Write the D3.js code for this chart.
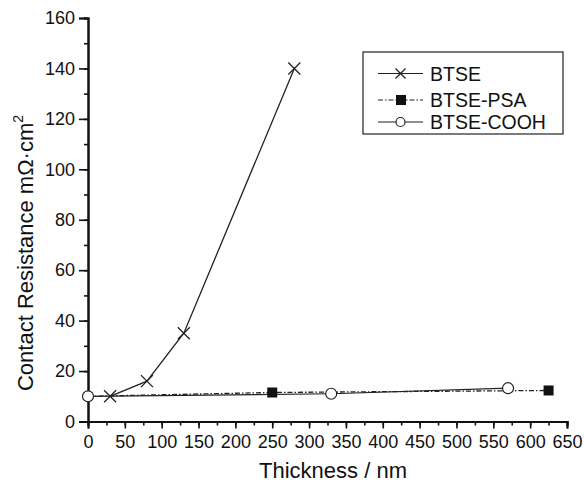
<!DOCTYPE html>
<html><head><meta charset="utf-8">
<script src="https://cdn.jsdelivr.net/npm/d3@7"></script>
<style>body{margin:0;background:#fff}svg{display:block}text{font-family:"Liberation Sans",Arial,sans-serif;fill:#111}</style>
</head><body><svg id="c" width="584" height="487"></svg>
<script>
const btseX = [30, 80, 130, 280];
const btseY = [10, 16, 35, 140];
const psaX = [0, 250, 625];
const psaY = [10, 11.5, 12.3];
const coohX = [0, 330, 570];
const coohY = [10, 11, 13.2];
const coohErr = [1.5, 0, 0];
const seriesNames = ["BTSE", "BTSE-PSA", "BTSE-COOH"];
const xTicks = d3.range(0, 651, 50);
const yTicks = d3.range(0, 161, 20);

const svg = d3.select("#c");
const x = d3.scaleLinear().domain([0, 650]).range([88, 567]);
const y = d3.scaleLinear().domain([0, 160]).range([421.5, 18]);

// axes
const xMinor = d3.axisBottom(x).tickValues(d3.range(0, 651, 25)).tickSize(4).tickFormat("");
const xMajor = d3.axisBottom(x).tickValues(xTicks).tickSize(7).tickPadding(7);
const yMinor = d3.axisLeft(y).tickValues(d3.range(0, 161, 10)).tickSize(4).tickFormat("");
const yMajor = d3.axisLeft(y).tickValues(yTicks).tickSize(9).tickPadding(4);
function style(g){
  g.select(".domain").attr("stroke","#111").attr("stroke-width",2);
  g.selectAll(".tick line").attr("stroke","#111").attr("stroke-width",1.6);
  g.selectAll("text").style("font-size","18px").attr("fill","#111").style("font-family",'"Liberation Sans",Arial,sans-serif');
}
svg.append("g").attr("transform","translate(0,421.5)").call(xMinor).call(style);
svg.append("g").attr("transform","translate(0,421.5)").call(xMajor).call(style);
svg.append("g").attr("transform","translate(88,0)").call(yMinor).call(style);
svg.append("g").attr("transform","translate(88,0)").call(yMajor).call(style);

// titles
svg.append("text").attr("x",333).attr("y",478).attr("text-anchor","middle")
  .style("font-size","22px").text("Thickness / nm");
const yt = svg.append("text").attr("transform","translate(33,253) rotate(-90)").attr("text-anchor","middle")
  .style("font-size","22px");
yt.append("tspan").text("Contact Resistance mΩ·cm");
yt.append("tspan").attr("dy",-10).style("font-size","14px").text("2");

const line = d3.line().x(d=>x(d[0])).y(d=>y(d[1]));
const btse = btseX.map((v,i)=>[v,btseY[i]]);
const psa = psaX.map((v,i)=>[v,psaY[i]]);
const cooh = coohX.map((v,i)=>[v,coohY[i]]);

svg.append("path").datum(psa).attr("d",line).attr("fill","none").attr("stroke","#222").attr("stroke-width",1.3).attr("stroke-dasharray","5,2,1.5,2");
svg.append("path").datum(cooh).attr("d",line).attr("fill","none").attr("stroke","#222").attr("stroke-width",1.2);
svg.append("path").datum(btse).attr("d",line).attr("fill","none").attr("stroke","#222").attr("stroke-width",1.3);

function cross(g, cx, cy, s){
  g.append("path").attr("d",`M${cx-s},${cy-s}L${cx+s},${cy+s}M${cx-s},${cy+s}L${cx+s},${cy-s}`).attr("stroke","#222").attr("stroke-width",1.3).attr("fill","none");
}
const mk = svg.append("g");
btse.forEach(d=>cross(mk, x(d[0]), y(d[1]), 6));
psa.forEach((d,i)=>{ if(i>0) mk.append("rect").attr("x",x(d[0])-5).attr("y",y(d[1])-5).attr("width",10).attr("height",10).attr("fill","#111"); });
cooh.forEach((d,i)=>{
  if(coohErr[i]>0){
    const cx=x(d[0]);
    mk.append("path").attr("d",`M${cx},${y(d[1]-coohErr[i])}L${cx},${y(d[1]+coohErr[i])}M${cx-4},${y(d[1]-coohErr[i])}L${cx+4},${y(d[1]-coohErr[i])}M${cx-4},${y(d[1]+coohErr[i])}L${cx+4},${y(d[1]+coohErr[i])}`).attr("stroke","#222").attr("stroke-width",1.2);
  }
  mk.append("circle").attr("cx",x(d[0])).attr("cy",y(d[1])).attr("r",5.5).attr("fill","#fff").attr("stroke","#222").attr("stroke-width",1.2);
});

// legend
const lg = svg.append("g");
lg.append("rect").attr("x",363).attr("y",52).attr("width",200).attr("height",82).attr("fill","none").attr("stroke","#222").attr("stroke-width",1.2);
const ly = [73.5, 100, 122];
seriesNames.forEach((n,i)=>{
  const l = lg.append("line").attr("x1",378).attr("x2",423).attr("y1",ly[i]).attr("y2",ly[i]).attr("stroke","#222").attr("stroke-width",1.2);
  if(i===1) l.attr("stroke-dasharray","5,2,1.5,2");
  if(i===0) cross(lg, 400.5, ly[i], 5);
  if(i===1) lg.append("rect").attr("x",396).attr("y",ly[i]-5).attr("width",10).attr("height",10).attr("fill","#111");
  if(i===2) lg.append("circle").attr("cx",400.5).attr("cy",ly[i]).attr("r",4.5).attr("fill","#fff").attr("stroke","#222").attr("stroke-width",1.2);
  lg.append("text").attr("x",430).attr("y",ly[i]+7).style("font-size","19.5px").text(n);
});
</script></body></html>
